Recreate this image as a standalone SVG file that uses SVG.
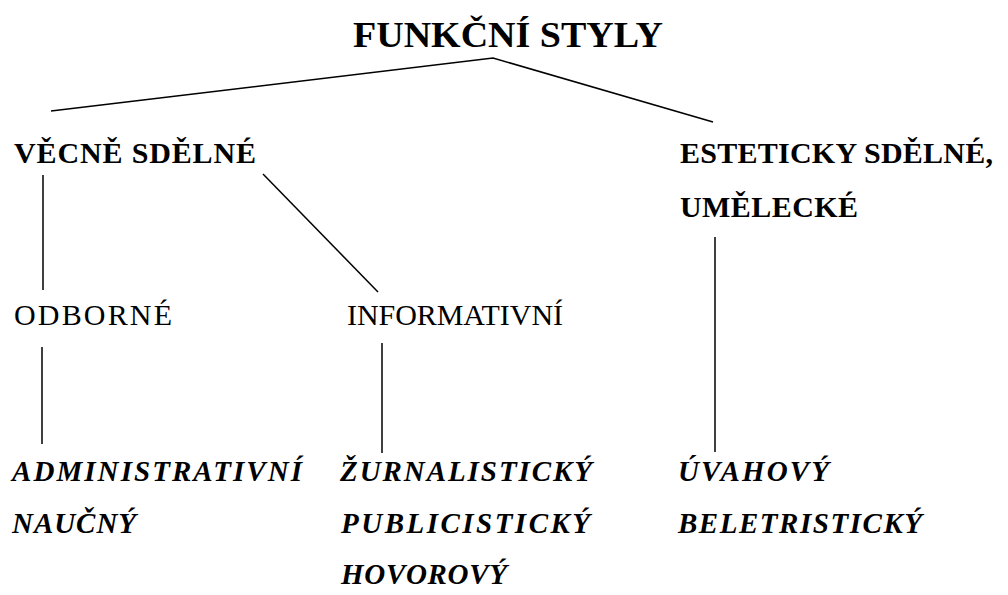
<svg xmlns="http://www.w3.org/2000/svg" width="1008" height="595" viewBox="0 0 1008 595">
<style>
text{font-family:"Liberation Serif","Times New Roman",serif;fill:#000}
.title{font-size:35px;font-weight:bold}
.hb{font-size:30px;font-weight:bold}
.h{font-size:30px}
.it{font-size:29px;font-style:italic;font-weight:bold}
.ln{stroke:#000;stroke-width:1.5;fill:none}
</style>
<rect width="1008" height="595" fill="#fff"/>
<g id="connectors">
<polyline class="ln" points="51,111 493,58 713,122"/>
<line class="ln" x1="43" y1="175" x2="43" y2="290"/>
<line class="ln" x1="263" y1="174" x2="378" y2="292"/>
<line class="ln" x1="715" y1="237" x2="715" y2="452"/>
<line class="ln" x1="42" y1="347" x2="42" y2="444"/>
<line class="ln" x1="382" y1="343" x2="382" y2="453"/>
</g>
<g id="n-root"><text class="title" x="353" y="47" textLength="310" lengthAdjust="spacingAndGlyphs">FUNKČNÍ STYLY</text></g>
<g id="n-vecne"><text class="hb" x="14" y="163" textLength="242" lengthAdjust="spacing">VĚCNĚ SDĚLNÉ</text></g>
<g id="n-esteticky">
<text class="hb" x="680" y="163" textLength="313" lengthAdjust="spacing">ESTETICKY SDĚLNÉ,</text>
<text class="hb" x="680" y="217" textLength="178" lengthAdjust="spacing">UMĚLECKÉ</text>
</g>
<g id="n-odborne"><text class="h" x="14" y="325" textLength="158" lengthAdjust="spacing">ODBORNÉ</text></g>
<g id="n-informativni"><text class="h" x="347" y="325" textLength="216" lengthAdjust="spacing">INFORMATIVNÍ</text></g>
<g id="n-admin">
<text class="it" x="12" y="481" textLength="290" lengthAdjust="spacing">ADMINISTRATIVNÍ</text>
<text class="it" x="12" y="533" textLength="124" lengthAdjust="spacing">NAUČNÝ</text>
</g>
<g id="n-zurnal">
<text class="it" x="340" y="481" textLength="252" lengthAdjust="spacing">ŽURNALISTICKÝ</text>
<text class="it" x="341" y="533" textLength="249" lengthAdjust="spacing">PUBLICISTICKÝ</text>
<text class="it" x="341" y="584" textLength="166" lengthAdjust="spacing">HOVOROVÝ</text>
</g>
<g id="n-uvahovy">
<text class="it" x="678" y="481" textLength="151" lengthAdjust="spacing">ÚVAHOVÝ</text>
<text class="it" x="678" y="533" textLength="244" lengthAdjust="spacing">BELETRISTICKÝ</text>
</g>
</svg>
